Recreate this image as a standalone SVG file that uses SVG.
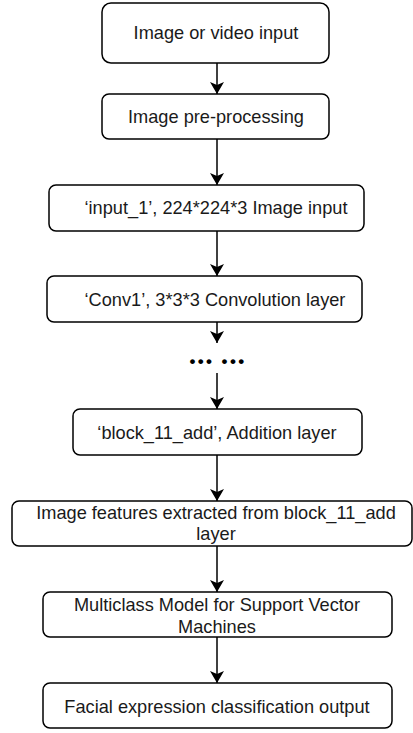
<svg xmlns="http://www.w3.org/2000/svg" width="413" height="733" viewBox="0 0 413 733">
<defs>
<style>
.box{fill:#fff;stroke:#000;stroke-width:1.5}
.t{font-family:"Liberation Sans",Arial,sans-serif;font-size:18.2px;fill:#1a1a1a;text-anchor:middle}
.c{stroke:#000;stroke-width:1.5;fill:none;marker-end:url(#ah)}
</style>
<marker id="ah" viewBox="0 0 12 14" refX="12" refY="7" markerWidth="12" markerHeight="14" markerUnits="userSpaceOnUse" orient="auto">
<path d="M0,0 L12,7 L0,14 L3,7 Z" fill="#000"/>
</marker>
</defs>
<rect width="413" height="733" fill="#fff"/>
<g id="connectors">
<line class="c" x1="217" y1="63" x2="217" y2="94"/>
<line class="c" x1="217" y1="139" x2="217" y2="185"/>
<line class="c" x1="217" y1="231" x2="217" y2="276"/>
<line class="c" x1="217" y1="322" x2="217" y2="343"/>
<line class="c" x1="217" y1="373" x2="217" y2="409"/>
<line class="c" x1="217" y1="455" x2="217" y2="501"/>
<line class="c" x1="217" y1="546" x2="217" y2="592"/>
<line class="c" x1="217" y1="637" x2="217" y2="683"/>
</g>
<g id="n1"><rect class="box" x="102" y="3" width="227" height="60" rx="9"/><text class="t" x="216" y="39">Image or video input</text></g>
<g id="n2"><rect class="box" x="102" y="94" width="227" height="45" rx="7"/><text class="t" x="216" y="123">Image pre-processing</text></g>
<g id="n3"><rect class="box" x="49" y="185" width="315" height="46" rx="7"/><text class="t" x="216" y="214">‘input_1’, 224*224*3 Image input</text></g>
<g id="n4"><rect class="box" x="47" y="276" width="315" height="46" rx="7"/><text class="t" x="215" y="306">‘Conv1’, 3*3*3 Convolution layer</text></g>
<g id="dots"><text x="218" y="367" style="font-family:'Liberation Sans',Arial,sans-serif;font-size:17px;font-weight:bold;letter-spacing:2.4px;text-anchor:middle;fill:#000">••• •••</text></g>
<g id="n5"><rect class="box" x="73" y="409" width="289" height="46" rx="7"/><text class="t" x="217" y="439">‘block_11_add’, Addition layer</text></g>
<g id="n6"><rect class="box" x="12" y="501" width="400" height="45" rx="7"/><text class="t" x="216" y="519">Image features extracted from block_11_add</text><text class="t" x="216" y="540">layer</text></g>
<g id="n7"><rect class="box" x="43" y="592" width="349" height="45" rx="7"/><text class="t" x="217" y="611">Multiclass Model for Support Vector</text><text class="t" x="217" y="633">Machines</text></g>
<g id="n8"><rect class="box" x="43" y="683" width="349" height="45" rx="7"/><text class="t" x="217" y="713">Facial expression classification output</text></g>
</svg>
